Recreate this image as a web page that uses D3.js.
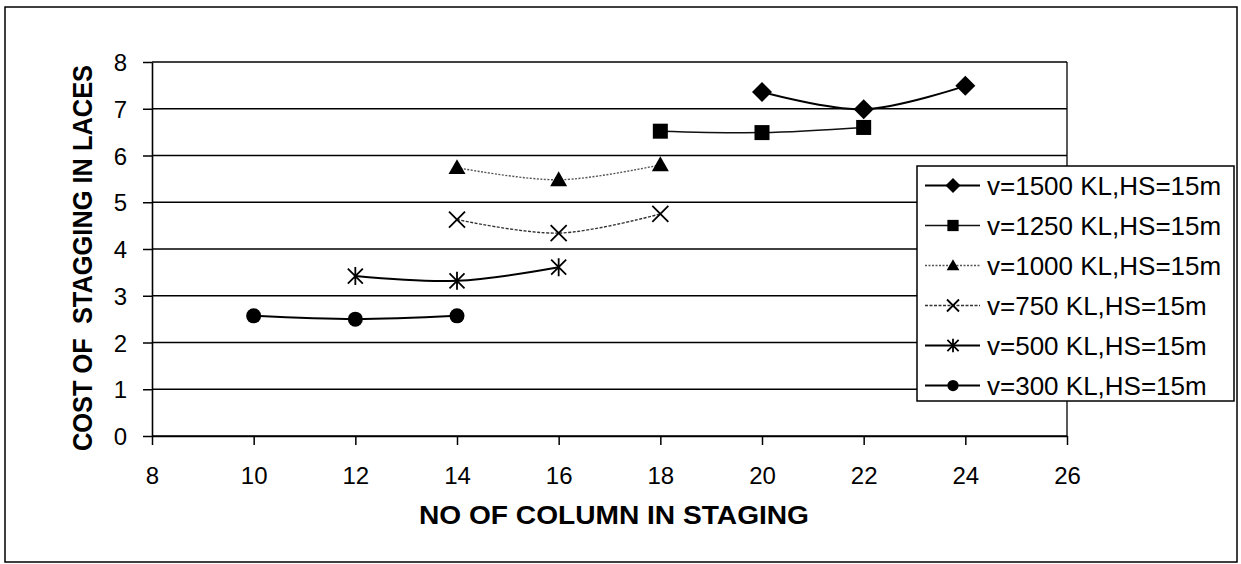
<!DOCTYPE html>
<html>
<head>
<meta charset="utf-8">
<script src="https://cdn.jsdelivr.net/npm/d3@7"></script>
<style>
  body { margin: 0; background: #fff; }
  text { font-family: Arial, "Liberation Sans", sans-serif; fill: #000; }
</style>
</head>
<body>
<div id="chart"></div>
<script>
// series data
const seriesNames = [
  "v=1500 KL,HS=15m",
  "v=1250 KL,HS=15m",
  "v=1000 KL,HS=15m",
  "v=750 KL,HS=15m",
  "v=500 KL,HS=15m",
  "v=300 KL,HS=15m"
];
const columns1500 = [20, 22, 24];
const cost1500 = [7.36, 6.99, 7.49];
const columns1250 = [18, 20, 22];
const cost1250 = [6.52, 6.49, 6.60];
const columns1000 = [14, 16, 18];
const cost1000 = [5.74, 5.48, 5.80];
const columns750 = [14, 16, 18];
const cost750 = [4.63, 4.34, 4.75];
const columns500 = [12, 14, 16];
const cost500 = [3.42, 3.32, 3.61];
const columns300 = [10, 12, 14];
const cost300 = [2.57, 2.50, 2.57];

const xTicks = [8, 10, 12, 14, 16, 18, 20, 22, 24, 26];
const yTicks = [0, 1, 2, 3, 4, 5, 6, 7, 8];

// how each series is drawn
const styles = [
  { marker: "diamond", width: 2, dash: null, color: "#000" },
  { marker: "square", width: 1.5, dash: null, color: "#111" },
  { marker: "triangle", width: 1.4, dash: "2,1.5", color: "#555" },
  { marker: "cross", width: 1.4, dash: "3,1.5", color: "#333" },
  { marker: "asterisk", width: 2, dash: null, color: "#000" },
  { marker: "circle", width: 2, dash: null, color: "#000" }
];

const allColumns = [columns1500, columns1250, columns1000, columns750, columns500, columns300];
const allCost = [cost1500, cost1250, cost1000, cost750, cost500, cost300];

let width = 1241, height = 564;
let plot = { left: 152, right: 1067, top: 62, bottom: 436 };

let svg = d3.select('#chart')
  .append('svg')
  .attr('width', width)
  .attr('height', height);

// outer frame of the chart
svg.append('rect')
  .attr('x', 5).attr('y', 7)
  .attr('width', 1232).attr('height', 555)
  .attr('fill', 'none')
  .attr('stroke', '#000')
  .attr('stroke-width', 1.5);

let x = d3.scaleLinear().domain([8, 26]).range([plot.left, plot.right]);
let y = d3.scaleLinear().domain([0, 8]).range([plot.bottom, plot.top]);

// horizontal gridlines
svg.append('g')
  .selectAll('line')
  .data(yTicks)
  .enter().append('line')
  .attr('x1', plot.left).attr('x2', plot.right)
  .attr('y1', d => y(d)).attr('y2', d => y(d))
  .attr('stroke', '#000')
  .attr('stroke-width', 1.5);

// right edge of the plot area
svg.append('line')
  .attr('x1', plot.right).attr('x2', plot.right)
  .attr('y1', plot.top).attr('y2', plot.bottom)
  .attr('stroke', '#000').attr('stroke-width', 1.3);

// axes
let xAxis = svg.append('g')
  .attr('transform', 'translate(0,' + plot.bottom + ')')
  .call(d3.axisBottom(x).tickValues(xTicks).tickSize(9).tickPadding(22).tickSizeOuter(0));
let yAxis = svg.append('g')
  .attr('transform', 'translate(' + plot.left + ',0)')
  .call(d3.axisLeft(y).tickValues(yTicks).tickSize(9).tickPadding(16).tickSizeOuter(0));

[xAxis, yAxis].forEach(function(a) {
  a.selectAll('path.domain').attr('stroke', '#000').attr('stroke-width', 1.6);
  a.selectAll('.tick line').attr('stroke', '#000').attr('stroke-width', 1.5);
  a.selectAll('.tick text')
    .attr('fill', '#000')
    .style('font-family', 'Arial, "Liberation Sans", sans-serif')
    .style('font-size', '24px');
});
xAxis.selectAll('.tick text').attr('dy', '0.71em');
yAxis.selectAll('.tick text').attr('dy', '0.36em');

// axis titles
svg.append('text')
  .attr('x', 614).attr('y', 524)
  .attr('text-anchor', 'middle')
  .style('font-size', '25px')
  .style('font-weight', 'bold')
  .attr('textLength', 390)
  .attr('lengthAdjust', 'spacingAndGlyphs')
  .text('NO OF COLUMN IN STAGING');

svg.append('text')
  .attr('transform', 'translate(92,258) rotate(-90)')
  .attr('text-anchor', 'middle')
  .style('font-size', '28px')
  .style('font-weight', 'bold')
  .attr('xml:space', 'preserve')
  .attr('textLength', 386)
  .attr('lengthAdjust', 'spacingAndGlyphs')
  .text('COST OF  STAGGING IN LACES');

// smooth lines like the spreadsheet's smoothed series
let line = d3.line()
  .x(d => x(d[0]))
  .y(d => y(d[1]))
  .curve(d3.curveCatmullRom.alpha(0.5));

function drawMarker(g, kind, s, color) {
  if (kind === 'diamond') {
    g.append('path').attr('d', `M0,${-s} L${s},0 L0,${s} L${-s},0 Z`).attr('fill', color);
  } else if (kind === 'square') {
    let h = s * 0.75;
    g.append('rect').attr('x', -h).attr('y', -h).attr('width', 2 * h).attr('height', 2 * h).attr('fill', color);
  } else if (kind === 'triangle') {
    let h = s * 0.85;
    g.append('path').attr('d', `M0,${-h} L${h},${h * 0.75} L${-h},${h * 0.75} Z`).attr('fill', color);
  } else if (kind === 'cross') {
    let h = s * 0.8;
    g.append('path').attr('d', `M${-h},${-h} L${h},${h} M${-h},${h} L${h},${-h}`)
      .attr('stroke', color).attr('stroke-width', 1.8).attr('fill', 'none');
  } else if (kind === 'asterisk') {
    let h = s * 0.75;
    g.append('path').attr('d', `M${-h},${-h} L${h},${h} M${-h},${h} L${h},${-h} M0,${-s * 0.9} L0,${s * 0.9}`)
      .attr('stroke', color).attr('stroke-width', 1.8).attr('fill', 'none');
  } else {
    g.append('circle').attr('r', s * 0.75).attr('fill', color);
  }
}

let seriesGroup = svg.append('g');
seriesNames.forEach(function(name, i) {
  let st = styles[i];
  let pts = allColumns[i].map((c, j) => [c, allCost[i][j]]);
  seriesGroup.append('path')
    .datum(pts)
    .attr('d', line)
    .attr('fill', 'none')
    .attr('stroke', st.color)
    .attr('stroke-width', st.width)
    .attr('stroke-dasharray', st.dash);
  pts.forEach(function(p) {
    let m = seriesGroup.append('g')
      .attr('transform', 'translate(' + x(p[0]) + ',' + y(p[1]) + ')');
    drawMarker(m, st.marker, 10, '#000');
  });
});

// legend box
let legend = svg.append('g');
legend.append('rect')
  .attr('x', 917).attr('y', 166)
  .attr('width', 317).attr('height', 235)
  .attr('fill', '#fff')
  .attr('stroke', '#000')
  .attr('stroke-width', 1.5);

let rows = legend.selectAll('g.row')
  .data(seriesNames)
  .enter().append('g')
  .attr('class', 'row')
  .attr('transform', (d, i) => 'translate(0,' + (185.5 + i * 40) + ')');

rows.append('line')
  .attr('x1', 925).attr('x2', 980)
  .attr('stroke', (d, i) => styles[i].color)
  .attr('stroke-width', (d, i) => styles[i].width)
  .attr('stroke-dasharray', (d, i) => styles[i].dash);

rows.each(function(d, i) {
  let m = d3.select(this).append('g').attr('transform', 'translate(953,0)');
  drawMarker(m, styles[i].marker, 7.5, '#000');
});

rows.append('text')
  .attr('x', 987)
  .attr('dy', '0.36em')
  .style('font-size', '26px')
  .text(d => d);
</script>
</body>
</html>
